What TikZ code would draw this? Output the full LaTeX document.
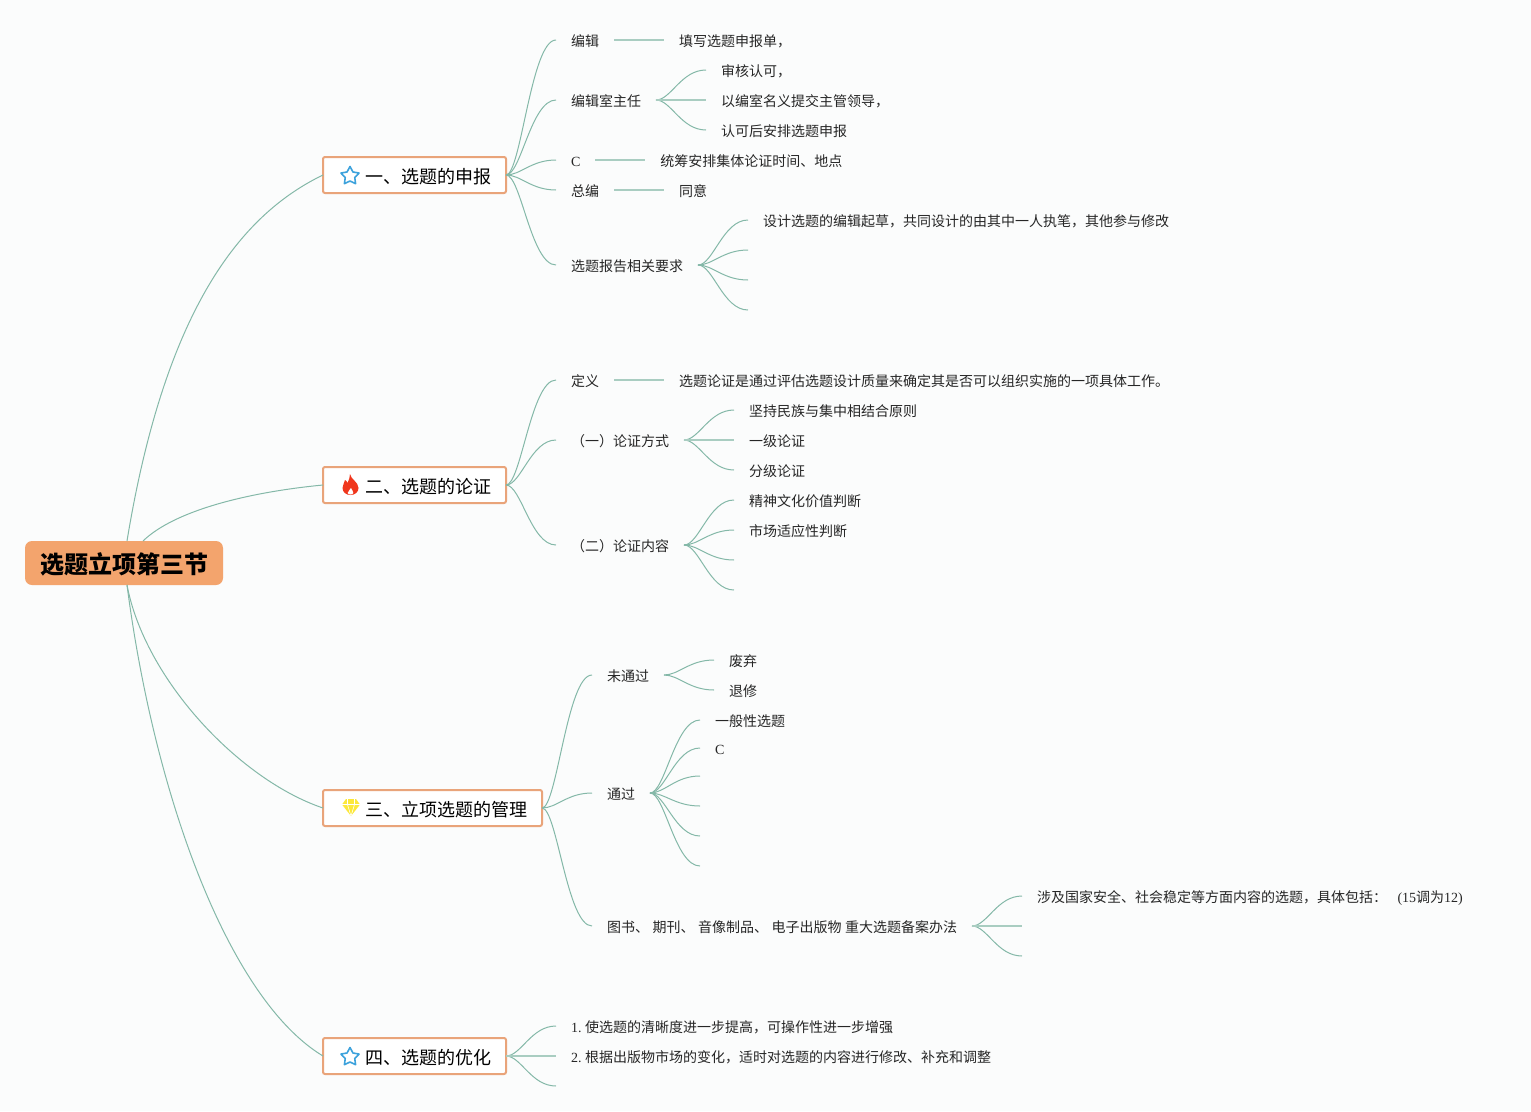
\documentclass[tikz,border=0pt]{standalone}
\usepackage{fontspec}
\usepackage{xcolor}
\setmainfont[Kerning=Off]{Noto Sans CJK SC}
\newfontfamily\latfont{Liberation Serif}
\usetikzlibrary{positioning,shapes.geometric}
\definecolor{paper}{HTML}{FBFCFC}
\definecolor{linkgreen}{HTML}{84B8A8}
\definecolor{stubgreen}{HTML}{A9CDC1}
\definecolor{rootorange}{HTML}{F3A46D}
\definecolor{boxorange}{HTML}{E9A47A}
\definecolor{starblue}{HTML}{3DA2DC}
\definecolor{flamered}{HTML}{F0361C}
\definecolor{gemyellow}{HTML}{FCE83A}
\newcommand{\gap}{\hspace{3.5pt}}

\begin{document}
\begin{tikzpicture}[
  x=1pt, y=1pt,
  rootbox/.style={fill=rootorange, rounded corners=7pt, minimum height=44pt,
    inner xsep=15pt, inner ysep=0pt, outer sep=0pt, text height=23.5pt, text depth=2pt,
    font=\fontsize{24}{28}\bfseries\selectfont},
  topic/.style={draw=boxorange, line width=2pt, fill=white, rounded corners=2pt,
    minimum height=36pt, inner xsep=15pt, inner ysep=0pt, outer sep=0pt,
    text height=19pt, text depth=2pt, font=\fontsize{18}{22}\selectfont},
  leaf/.style={inner xsep=15pt, inner ysep=0pt, outer sep=0pt, text height=14.5pt, text depth=1.5pt,
    text=black!85, font=\fontsize{14}{17}\selectfont},
  starmark/.style={star, star points=5, star point ratio=1.9, draw=starblue, line width=1.6pt,
    line join=round, minimum size=19pt, inner sep=0pt, yshift=-1pt},
  link/.style={linkgreen, line width=1pt},
  stub/.style={stubgreen, line width=1.7pt},
  fan/.style={to path={.. controls ([xshift=15pt]\tikztostart) and ([xshift=-25pt]\tikztotarget) .. (\tikztotarget)}},
  node distance=50pt
]
  \useasboundingbox[fill=paper] (0,0) rectangle (1531,-1111);

  % Root and topics
  \node[rootbox] (root) at (124,-563) {选题立项第三节};
  \node[topic, right=100pt of root, yshift=388pt] (topicA) {\hspace*{27pt}一、选题的申报};
  \node[topic, right=100pt of root, yshift=78pt] (topicB) {\hspace*{27pt}二、选题的论证};
  \node[topic, right=100pt of root, yshift=-245pt] (topicC) {\hspace*{27pt}三、立项选题的管理};
  \node[topic, right=100pt of root, yshift=-493pt] (topicD) {\hspace*{27pt}四、选题的优化};

  % Topic icons
  \node[starmark] (iconA) at ([xshift=27pt]topicA.west) {};
  \node[starmark] (iconD) at ([xshift=27pt]topicD.west) {};
  \coordinate (iconB) at ([xshift=27.5pt]topicB.west);
  \coordinate (iconC) at ([xshift=28pt, yshift=0.5pt]topicC.west);
  \fill[flamered, shift={(iconB)}] (-0.5,11) .. controls (0,6) and (8,3) .. (8,-3)
    .. controls (8,-7) and (4.5,-10) .. (0,-10) .. controls (-4.5,-10) and (-8,-7) .. (-8,-3)
    .. controls (-8,0) and (-6,2) .. (-5.5,5) .. controls (-4.5,4.5) and (-3.5,3.5) .. (-3,2)
    .. controls (-1.5,5) and (-0.5,8) .. (-0.5,11) -- cycle;
  \fill[white, shift={(iconB)}] (0.5,-3) .. controls (1,-5) and (3,-6) .. (2.8,-8)
    .. controls (2.5,-10) and (-2.5,-10) .. (-2.8,-8) .. controls (-3,-6) and (0,-5) .. (0.5,-3) -- cycle;
  \fill[gemyellow, shift={(iconC)}] (-5,8.5) -- (5,8.5) -- (9,3) -- (0,-8.5) -- (-9,3) -- cycle;
  \draw[white, line width=0.6pt, shift={(iconC)}] (-9,3) -- (9,3) (-3.5,8.5) -- (-3.5,3) -- (0,-8.5) -- (3.5,3) -- (3.5,8.5);

  % Topic one
  \node[leaf, right=of topicA, yshift=135pt] (edit) {编辑};
  \node[leaf, right=of edit] (fillform) {填写选题申报单，};
  \node[leaf, right=of topicA, yshift=75pt] (director) {编辑室主任};
  \node[leaf, right=of director, yshift=30pt] (approve) {审核认可，};
  \node[leaf, right=of director] (submit) {以编室名义提交主管领导，};
  \node[leaf, right=of director, yshift=-30pt] (arrange) {认可后安排选题申报};
  \node[leaf, right=of topicA, yshift=15pt] (letterC) {\latfont C};
  \node[leaf, right=of letterC] (schedule) {统筹安排集体论证时间、地点};
  \node[leaf, right=of topicA, yshift=-15pt] (chief) {总编};
  \node[leaf, right=of chief] (agree) {同意};
  \node[leaf, right=of topicA, yshift=-90pt] (report) {选题报告相关要求};
  \node[leaf, right=of report, yshift=45pt] (design) {设计选题的编辑起草，共同设计的由其中一人执笔，其他参与修改};
  \coordinate[right=of report, yshift=15pt] (reportB);
  \coordinate[right=of report, yshift=-15pt] (reportC);
  \coordinate[right=of report, yshift=-45pt] (reportD);

  % Topic two
  \node[leaf, right=of topicB, yshift=105pt] (define) {定义};
  \node[leaf, right=of define] (defined) {选题论证是通过评估选题设计质量来确定其是否可以组织实施的一项具体工作。};
  \node[leaf, right=of topicB, yshift=45pt] (modes) {（一）论证方式};
  \node[leaf, right=of modes, yshift=30pt] (modeA) {坚持民族与集中相结合原则};
  \node[leaf, right=of modes] (modeB) {一级论证};
  \node[leaf, right=of modes, yshift=-30pt] (modeC) {分级论证};
  \node[leaf, right=of topicB, yshift=-60pt] (contents) {（二）论证内容};
  \node[leaf, right=of contents, yshift=45pt] (contentA) {精神文化价值判断};
  \node[leaf, right=of contents, yshift=15pt] (contentB) {市场适应性判断};
  \coordinate[right=of contents, yshift=-15pt] (contentC);
  \coordinate[right=of contents, yshift=-45pt] (contentD);

  % Topic three
  \node[leaf, right=of topicC, yshift=133pt] (failed) {未通过};
  \node[leaf, right=of failed, yshift=15pt] (scrap) {废弃};
  \node[leaf, right=of failed, yshift=-15pt] (rework) {退修};
  \node[leaf, right=of topicC, yshift=15pt] (passed) {通过};
  \node[leaf, right=of passed, yshift=73pt] (general) {一般性选题};
  \node[leaf, right=of passed, yshift=45pt] (passC) {\latfont C};
  \coordinate[right=of passed, yshift=17pt] (passD);
  \coordinate[right=of passed, yshift=-13pt] (passE);
  \coordinate[right=of passed, yshift=-43pt] (passF);
  \coordinate[right=of passed, yshift=-73pt] (passG);
  \node[leaf, right=of topicC, yshift=-118pt] (filing) {图书、\gap 期刊、\gap 音像制品、\gap 电子出版物\gap 重大选题备案办法};
  \node[leaf, right=of filing, yshift=30pt] (security) {涉及国家安全、社会稳定等方面内容的选题，具体包括：\hspace{10.5pt}{\latfont (15}调为{\latfont 12)}};
  \coordinate[right=of filing] (filingB);
  \coordinate[right=of filing, yshift=-30pt] (filingC);

  % Topic four
  \node[leaf, right=of topicD, yshift=30pt] (clarity) {{\latfont 1.\gap}使选题的清晰度进一步提高，可操作性进一步增强};
  \node[leaf, right=of topicD] (revise) {{\latfont 2.\gap}根据出版物市场的变化，适时对选题的内容进行修改、补充和调整};
  \coordinate[right=of topicD, yshift=-30pt] (optimizeC);

  % Root connectors
  \draw[link] ([xshift=3pt]root.north) .. controls +(38,231) and +(-83,-40) .. (topicA.west);
  \draw[link] ([xshift=19pt]root.north) .. controls +(32,31) and +(-73,-7) .. (topicB.west);
  \draw[link] ([xshift=3pt]root.south) .. controls +(18,-95) and +(-83,28) .. (topicC.west);
  \draw[link] ([xshift=3pt]root.south) .. controls +(28,-215) and +(-93,56) .. (topicD.west);

  % Branch connectors
  \foreach \kid in {edit,director,letterC,chief,report}
    \draw[link, fan] (topicA.east) to (\kid.west);
  \foreach \kid in {define,modes,contents}
    \draw[link, fan] (topicB.east) to (\kid.west);
  \foreach \kid in {failed,passed,filing}
    \draw[link, fan] (topicC.east) to (\kid.west);
  \foreach \kid in {clarity.west,optimizeC}
    \draw[link, fan] (topicD.east) to (\kid);
  \foreach \kid in {approve,arrange}
    \draw[link, fan] (director.east) to (\kid.west);
  \foreach \kid in {design.west,reportB,reportC,reportD}
    \draw[link, fan] (report.east) to (\kid);
  \foreach \kid in {modeA,modeC}
    \draw[link, fan] (modes.east) to (\kid.west);
  \foreach \kid in {contentA.west,contentB.west,contentC,contentD}
    \draw[link, fan] (contents.east) to (\kid);
  \foreach \kid in {scrap,rework}
    \draw[link, fan] (failed.east) to (\kid.west);
  \foreach \kid in {general.west,passC.west,passD,passE,passF,passG}
    \draw[link, fan] (passed.east) to (\kid);
  \foreach \kid in {security.west,filingC}
    \draw[link, fan] (filing.east) to (\kid);

  % Straight connectors
  \draw[stub] (edit) -- (fillform);
  \draw[stub] (director) -- (submit);
  \draw[stub] (letterC) -- (schedule);
  \draw[stub] (chief) -- (agree);
  \draw[stub] (define) -- (defined);
  \draw[stub] (modes) -- (modeB);
  \draw[stub] (filing.east) -- (filingB);
  \draw[stub] (topicD.east) -- (revise.west);
\end{tikzpicture}
\end{document}
